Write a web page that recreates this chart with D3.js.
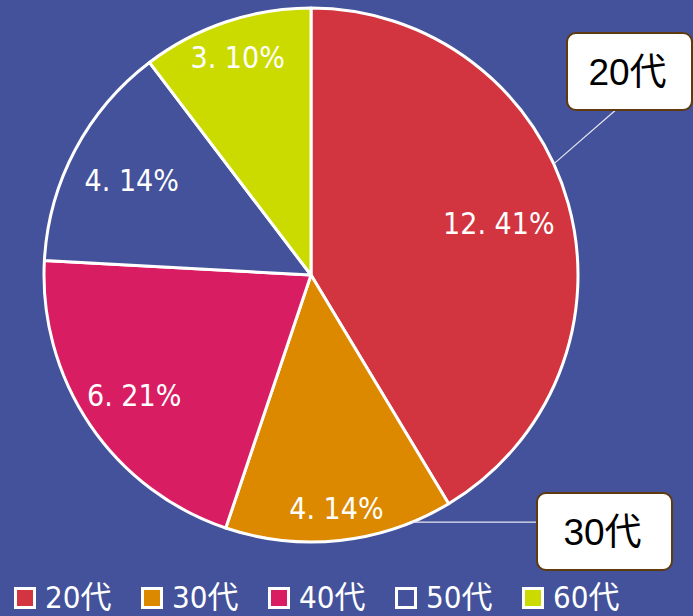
<!DOCTYPE html>
<html>
<head>
<meta charset="utf-8">
<script src="https://cdn.jsdelivr.net/npm/d3@7"></script>
<style>
  html, body { margin: 0; padding: 0; background: #43529b; }
  svg { display: block; }
</style>
</head>
<body>
<div id="chart"></div>
<script>
const categories = ["20代", "30代", "40代", "50代", "60代"];
const counts = [12, 4, 6, 4, 3];
const colors = ["#d2353f", "#dc8900", "#d91d63", "#43529b", "#cbdb00"];

// label distance from centre, as a fraction of the radius
const labelRadius = [0.73, 0.88, 0.80, 0.76, 0.86];

const width = 693, height = 616;
const cx = 311, cy = 275, radius = 267;

const condensed = "'Liberation Sans Narrow', 'DejaVu Sans Condensed', 'Noto Sans CJK JP', sans-serif";
const regular = "'Liberation Sans', Arial, 'Noto Sans CJK JP', sans-serif";

const total = d3.sum(counts);
const data = categories.map((c, i) => ({ name: c, value: counts[i], color: colors[i], lr: labelRadius[i] }));

const svg = d3.select("#chart")
  .append("svg")
  .attr("width", width)
  .attr("height", height);

svg.append("rect")
  .attr("width", width)
  .attr("height", height)
  .attr("fill", "#43529b");

const pie = d3.pie().sort(null).value(d => d.value);
const arcs = pie(data);
const arc = d3.arc().innerRadius(0).outerRadius(radius);

const g = svg.append("g").attr("transform", `translate(${cx},${cy})`);

g.selectAll(".slice")
  .data(arcs)
  .enter()
  .append("path")
  .attr("class", "slice")
  .attr("d", arc)
  .attr("fill", d => d.data.color)
  .attr("stroke", "#fff")
  .attr("stroke-width", 3)
  .attr("stroke-linejoin", "round");

// value labels "12. 41%"
g.selectAll(".label")
  .data(arcs)
  .enter()
  .append("text")
  .attr("class", "label")
  .attr("transform", d => {
    const r = radius * d.data.lr;
    const [x, y] = d3.arc().innerRadius(r).outerRadius(r).centroid(d);
    return `translate(${x},${y})`;
  })
  .attr("dy", "0.36em")
  .attr("text-anchor", "middle")
  .attr("font-family", condensed)
  .attr("font-size", "30px")
  .attr("fill", "#fff")
  .text(d => `${d.data.value}. ${Math.round(d.data.value / total * 100)}%`);

// callouts
const callouts = [
  { slice: 0, angle: 65.4, box: [567, 33, 125, 77], from: "bottom" },
  { slice: 1, angle: 157.8, box: [537, 493, 135, 77], from: "left" }
];

callouts.forEach(c => {
  const a = c.angle * Math.PI / 180;
  const px = cx + radius * Math.sin(a);
  const py = cy - radius * Math.cos(a);
  const [bx, by, bw, bh] = c.box;
  let ex, ey;
  if (c.from === "bottom") { ex = bx + bw * 0.39; ey = by + bh; }
  else { ex = bx; ey = py; }

  svg.append("line")
    .attr("x1", px).attr("y1", py)
    .attr("x2", ex).attr("y2", ey)
    .attr("stroke", "#e8e8f0")
    .attr("stroke-width", 1.2);

  svg.append("rect")
    .attr("x", bx).attr("y", by)
    .attr("width", bw).attr("height", bh)
    .attr("rx", 9)
    .attr("fill", "#fff")
    .attr("stroke", "#5e3a0e")
    .attr("stroke-width", 2);

  svg.append("text")
    .attr("x", bx + bw / 2 - 2)
    .attr("y", by + bh / 2)
    .attr("dy", "0.36em")
    .attr("text-anchor", "middle")
    .attr("font-family", regular)
    .attr("font-size", "37px")
    .attr("fill", "#000")
    .text(categories[c.slice]);
});

// legend
const legend = svg.append("g")
  .attr("transform", "translate(14,587)")
  .selectAll(".legend-item")
  .data(data)
  .enter()
  .append("g")
  .attr("class", "legend-item")
  .attr("transform", (d, i) => `translate(${i * 127},0)`);

legend.append("rect")
  .attr("x", 1.5).attr("y", 1.5)
  .attr("width", 19).attr("height", 19)
  .attr("fill", d => d.color)
  .attr("stroke", "#fff")
  .attr("stroke-width", 3);

legend.append("text")
  .attr("x", 31)
  .attr("y", 21)
  .attr("font-family", condensed)
  .attr("font-size", "31px")
  .attr("fill", "#fff")
  .text(d => d.name);
</script>
</body>
</html>
